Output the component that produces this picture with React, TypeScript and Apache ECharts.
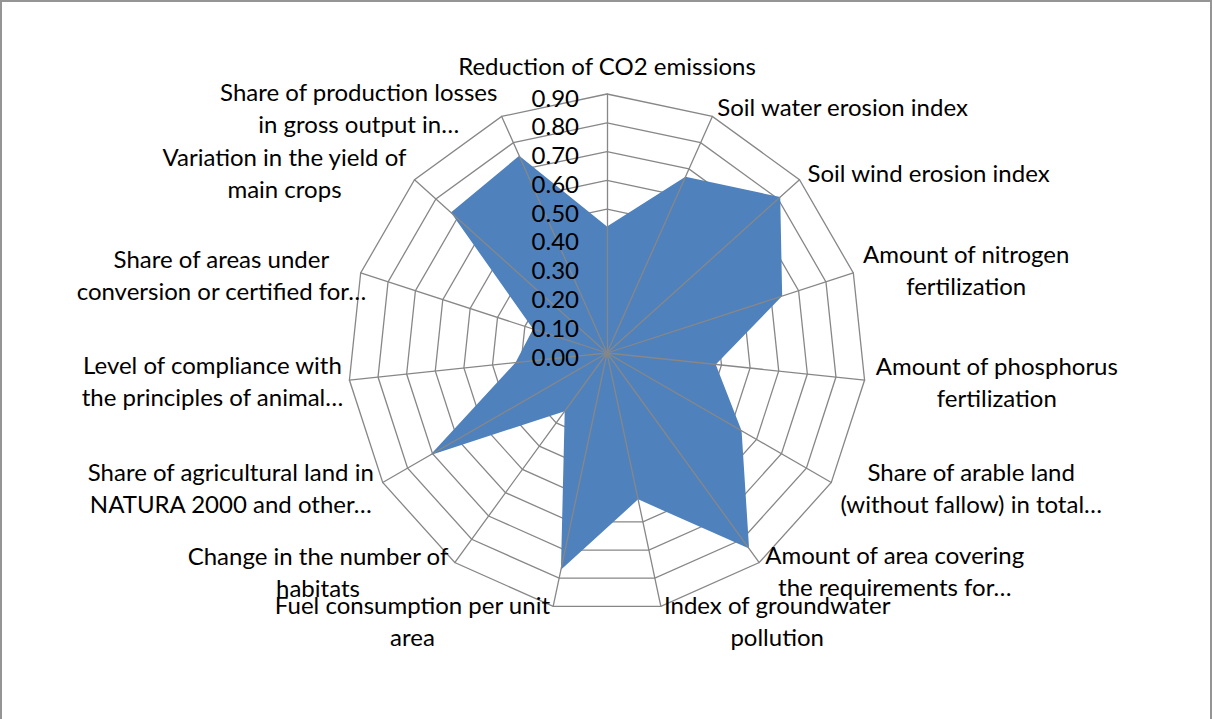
import React, { useEffect, useRef } from 'react';
import * as echarts from 'echarts';

// Indicators in clockwise order, starting at the top
const categories: string[] = [
  'Reduction of CO2 emissions',
  'Soil water erosion index',
  'Soil wind erosion index',
  'Amount of nitrogen\nfertilization',
  'Amount of phosphorus\nfertilization',
  'Share of arable land\n(without fallow) in total…',
  'Amount of area covering\nthe requirements for…',
  'Index of groundwater\npollution',
  'Fuel consumption per unit\narea',
  'Change in the number of\nhabitats',
  'Share of agricultural land in\nNATURA 2000 and other…',
  'Level of compliance with\nthe principles of animal…',
  'Share of areas under\nconversion or certified for…',
  'Variation in the yield of\nmain crops',
  'Share of production losses\nin gross output in…',
];

const values: number[] = [0.44, 0.67, 0.81, 0.64, 0.38, 0.54, 0.84, 0.52, 0.77, 0.25, 0.71, 0.32, 0.27, 0.73, 0.75];

const axisMin = 0;
const axisMax = 0.9;
const axisSplits = 9;

// label placement (per indicator, clockwise order)
const nameGaps: number[] = [29, 11, 10.5, 10, 11, 10.5, 10, 14, 14, 10.5, 10, 6, -6, 10.5, 10];
const nameAligns: string[] = ['center', 'left', 'left', 'left', 'left', 'left', 'left', 'left', 'right', 'right', 'right', 'right', 'right', 'right', 'right'];

const FONT = 'Lato';
const FS = 24;

export default function App() {
  const ref = useRef<HTMLDivElement>(null);
  useEffect(() => {
    if (!ref.current) return;
    const chart = echarts.init(ref.current, null, { renderer: 'svg' });
    const n = categories.length;
    // ECharts places radar indicators counter-clockwise; reorder so they run clockwise
    const order = [0, ...Array.from({ length: n - 1 }, (_, i) => n - 1 - i)];

    const baseIndicators = order.map((i) => ({
      name: categories[i],
      min: axisMin,
      max: axisMax,
      nameGap: nameGaps[i],
      nameTextStyle: { align: nameAligns[i], verticalAlign: 'middle' },
    }));
    const topIndicators = order.map((i) => ({
      name: categories[i],
      min: axisMin,
      max: axisMax,
      axisLabel: { show: i === 0 },
    }));

    const common = {
      center: [607, 353],
      radius: 259,
      startAngle: 90,
      shape: 'polygon',
      splitNumber: axisSplits,
    };

    chart.setOption({
      animation: false,
      backgroundColor: '#ffffff',
      graphic: [
        {
          type: 'rect',
          silent: true,
          shape: { x: 1, y: 1, width: 1210, height: 740 },
          style: { fill: 'none', stroke: '#959595', lineWidth: 2 },
        },
      ],
      radar: [
        {
          ...common,
          z: 0,
          axisName: {
            show: true,
            color: '#000',
            fontFamily: FONT,
            fontSize: FS,
            formatter: (name: string) =>
              name
                .split('\n')
                .map((l) => `{c|${l}}`)
                .join('\n'),
            rich: {
              c: { align: 'center', fontFamily: FONT, fontSize: FS, lineHeight: 32, color: '#000' },
            },
          },
          axisLine: { show: false },
          axisTick: { show: false },
          axisLabel: { show: false },
          splitLine: { show: true, lineStyle: { color: '#878787', width: 1.3 } },
          splitArea: { show: false },
          indicator: baseIndicators,
        },
        {
          ...common,
          z: 5,
          axisName: { show: false },
          axisLine: { show: true, lineStyle: { color: '#878787', width: 1.3 } },
          axisTick: { show: false },
          axisLabel: {
            show: false,
            color: '#000',
            fontFamily: FONT,
            fontSize: FS,
            margin: 28,
            verticalAlign: 'top',
            lineHeight: 24,
            padding: [-9, 0, 0, 0],
            formatter: (v: number) => Number(v).toFixed(2),
          },
          splitLine: { show: false },
          splitArea: { show: false },
          indicator: topIndicators,
        },
      ],
      series: [
        {
          type: 'radar',
          radarIndex: 0,
          z: 2,
          symbol: 'none',
          lineStyle: { width: 0, color: '#4f81bd' },
          areaStyle: { color: '#4f81bd', opacity: 1 },
          data: [{ value: order.map((i) => values[i]), name: 'Series 1' }],
        },
      ],
    });
    return () => chart.dispose();
  }, []);

  return (
    <div
      ref={ref}
      style={{ position: 'fixed', left: 0, top: 0, width: 1212, height: 719, background: '#fff' }}
    />
  );
}
